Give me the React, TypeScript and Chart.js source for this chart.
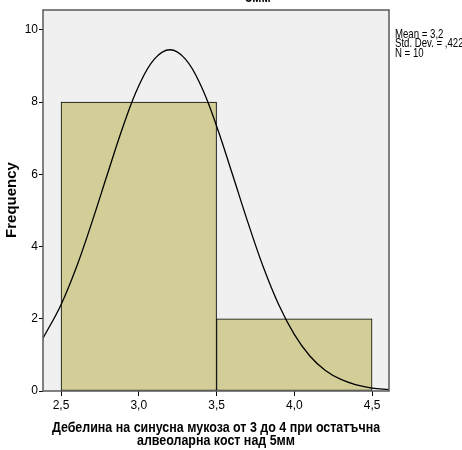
import React, { useEffect, useRef } from "react";
import { Chart, registerables } from "chart.js";

Chart.register(...registerables);

// Histogram bins (centres), frequencies
const binCenters = [3.0, 4.0];
const frequencies = [8, 2];

// Normal curve
const curveX = [2.384, 2.5, 2.6, 2.7, 2.8, 2.9, 3.0, 3.1, 3.2, 3.3, 3.4, 3.5, 3.6, 3.7, 3.8, 3.9, 4.0, 4.1, 4.2, 4.3, 4.4, 4.5, 4.609];
const curveY = [1.46, 2.39, 3.44, 4.69, 6.03, 7.34, 8.45, 9.19, 9.45, 9.19, 8.45, 7.34, 6.03, 4.69, 3.44, 2.39, 1.57, 0.97, 0.57, 0.32, 0.17, 0.08, 0.04];

const statsLines = ["Mean = 3,2", "Std. Dev. = ,422", "N = 10"];
const xTitleLines = ["Дебелина на синусна мукоза от 3 до 4 при остатъчна", "алвеоларна кост над 5мм"];
const yTitle = "Frequency";
const topTitleTail = "5мм";

const FONT = "'Liberation Sans', Arial, sans-serif";

function narrowText(ctx: any, text: string, x: number, y: number, sx: number, align: string) {
  ctx.save();
  ctx.translate(x, y);
  ctx.scale(sx, 1);
  ctx.textAlign = align;
  ctx.fillText(text, 0, 0);
  ctx.restore();
}

export default function App() {
  const ref = useRef<HTMLCanvasElement | null>(null);

  useEffect(() => {
    if (!ref.current) return;

    const bgPlugin = {
      id: "spssFrame",
      beforeDatasetsDraw(chart: any) {
        const { ctx, chartArea: a } = chart;
        ctx.save();
        ctx.fillStyle = "#f0f0f0";
        ctx.fillRect(a.left, a.top, a.right - a.left, a.bottom - a.top);
        ctx.restore();
      },
      afterDatasetsDraw(chart: any) {
        const { ctx, chartArea: a } = chart;
        ctx.save();
        ctx.strokeStyle = "#5a5a5a";
        ctx.lineWidth = 1.5;
        ctx.strokeRect(a.left, a.top, a.right - a.left, a.bottom - a.top);
        ctx.restore();
      },
      afterDraw(chart: any) {
        const { ctx, chartArea: a } = chart;
        ctx.save();
        ctx.fillStyle = "#000";
        ctx.textBaseline = "middle";
        ctx.font = `13px ${FONT}`;
        statsLines.forEach((s, i) => narrowText(ctx, s, a.right + 6, 34 + i * 9.7, 0.74, "left"));
        ctx.font = `bold 15px ${FONT}`;
        narrowText(ctx, topTitleTail, 258, -2, 0.83, "center");
        const cx = (a.left + a.right) / 2;
        narrowText(ctx, xTitleLines[0], cx, 428, 0.83, "center");
        narrowText(ctx, xTitleLines[1], cx, 441, 0.83, "center");
        ctx.translate(12, 200);
        ctx.rotate(-Math.PI / 2);
        ctx.font = `bold 15px ${FONT}`;
        ctx.textAlign = "center";
        ctx.fillText(yTitle, 0, 0);
        ctx.restore();
      },
    };

    const chart = new Chart(ref.current, {
      type: "bar",
      data: {
        datasets: [
          {
            type: "line",
            data: curveX.map((x, i) => ({ x, y: curveY[i] })),
            borderColor: "#000",
            borderWidth: 1.3,
            pointRadius: 0,
            tension: 0.4,
            fill: false,
            order: 0,
          } as any,
          {
            type: "bar",
            data: binCenters.map((x, i) => ({ x, y: frequencies[i] })),
            backgroundColor: "#d3ce97",
            borderColor: "#000",
            borderWidth: 1,
            borderSkipped: false,
            barThickness: "flex",
            barPercentage: 1,
            categoryPercentage: 1,
            order: 1,
          } as any,
        ],
      },
      options: {
        animation: false,
        responsive: false,
        maintainAspectRatio: false,
        layout: { padding: { top: 10, right: 73, left: 0, bottom: 0 } },
        plugins: { legend: { display: false }, tooltip: { enabled: false } },
        scales: {
          x: {
            type: "linear",
            min: 2.384,
            max: 4.609,
            offset: false,
            grid: { display: true, drawOnChartArea: false, drawTicks: true, tickLength: 5, color: "#000", offset: false },
            border: { display: false },
            ticks: {
              stepSize: 0.5,
              includeBounds: false,
              padding: 2,
              color: "#000",
              font: { family: FONT, size: 12 },
              maxRotation: 0,
              callback: (v: any) => Number(v).toFixed(1).replace(".", ","),
            },
            afterFit: (s: any) => { s.height = 59; },
          } as any,
          y: {
            type: "linear",
            min: 0,
            max: 10.55,
            grid: { display: true, drawOnChartArea: false, drawTicks: true, tickLength: 4, color: "#000" },
            border: { display: false },
            ticks: {
              stepSize: 2,
              includeBounds: false,
              padding: 1,
              color: "#000",
              font: { family: FONT, size: 12 },
            },
            afterFit: (s: any) => { s.width = 43; },
          } as any,
        },
      },
      plugins: [bgPlugin],
    });
    return () => chart.destroy();
  }, []);

  return (
    <div style={{ position: "fixed", left: 0, top: 0, width: 462, height: 450, background: "#fff" }}>
      <canvas ref={ref} width={462} height={450} style={{ width: 462, height: 450 }} />
    </div>
  );
}
